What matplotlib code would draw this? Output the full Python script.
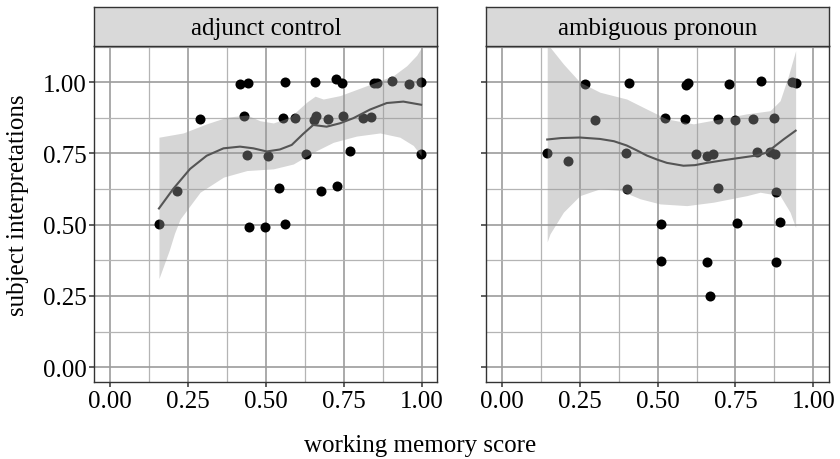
import matplotlib
matplotlib.use("Agg")
import matplotlib.pyplot as plt
from matplotlib.ticker import MultipleLocator
import numpy as np

plt.rcParams['font.family'] = ['Liberation Serif', 'DejaVu Serif']

panels = ["adjunct control", "ambiguous pronoun"]
tick_values = [0.0, 0.25, 0.5, 0.75, 1.0]
tick_labels = ["0.00", "0.25", "0.50", "0.75", "1.00"]

# adjunct control: jittered points
adj_x = [0.157, 0.214, 0.289, 0.417, 0.443, 0.431, 0.438, 0.445, 0.497, 0.506,
         0.542, 0.560, 0.562, 0.556, 0.594, 0.629, 0.658, 0.653, 0.661, 0.678,
         0.698, 0.725, 0.743, 0.729, 0.748, 0.770, 0.812, 0.838, 0.847, 0.857,
         0.904, 0.958, 0.998, 0.998]
adj_y = [0.503, 0.618, 0.871, 0.994, 0.998, 0.882, 0.743, 0.492, 0.492, 0.741,
         0.630, 0.501, 1.000, 0.875, 0.875, 0.747, 1.000, 0.868, 0.880, 0.617,
         0.870, 1.010, 0.996, 0.636, 0.882, 0.757, 0.874, 0.878, 0.996, 0.996,
         1.005, 0.994, 1.000, 0.749]

# adjunct control: smoother and confidence band
adj_fit_x = [0.157, 0.203, 0.257, 0.310, 0.364, 0.417, 0.460, 0.503, 0.545,
             0.583, 0.620, 0.652, 0.695, 0.738, 0.781, 0.834, 0.888, 0.941, 0.998]
adj_fit_y = [0.557, 0.626, 0.696, 0.742, 0.768, 0.774, 0.768, 0.757, 0.764,
             0.780, 0.819, 0.850, 0.844, 0.856, 0.874, 0.904, 0.927, 0.932, 0.921]
adj_hi_x = [0.157, 0.235, 0.310, 0.374, 0.439, 0.481, 0.524, 0.577, 0.631,
            0.658, 0.684, 0.738, 0.824, 0.909, 0.952, 0.984, 0.998]
adj_hi_y = [0.807, 0.822, 0.854, 0.877, 0.885, 0.865, 0.857, 0.877, 0.930,
            0.951, 0.941, 0.953, 0.988, 1.023, 1.058, 1.095, 1.120]
adj_lo_x = [0.157, 0.190, 0.207, 0.225, 0.289, 0.364, 0.439, 0.524, 0.588,
            0.652, 0.716, 0.791, 0.866, 0.930, 0.973, 0.998]
adj_lo_y = [0.311, 0.410, 0.470, 0.520, 0.614, 0.667, 0.690, 0.696, 0.713,
            0.754, 0.789, 0.811, 0.822, 0.807, 0.778, 0.742]

# ambiguous pronoun: jittered points
amb_x = [0.146, 0.214, 0.267, 0.298, 0.398, 0.401, 0.410, 0.510, 0.511, 0.523,
         0.588, 0.590, 0.598, 0.624, 0.658, 0.679, 0.658, 0.667, 0.693, 0.693,
         0.730, 0.750, 0.755, 0.805, 0.820, 0.832, 0.861, 0.872, 0.877, 0.880,
         0.879, 0.894, 0.931, 0.943]
amb_y = [0.750, 0.723, 0.992, 0.868, 0.751, 0.627, 0.998, 0.503, 0.374, 0.874,
         0.871, 0.991, 0.996, 0.747, 0.740, 0.748, 0.368, 0.251, 0.870, 0.628,
         0.992, 0.869, 0.506, 0.871, 0.754, 1.005, 0.754, 0.876, 0.748, 0.616,
         0.368, 0.509, 1.000, 0.996]

# ambiguous pronoun: smoother and confidence band
amb_fit_x = [0.146, 0.190, 0.250, 0.315, 0.360, 0.401, 0.435, 0.465, 0.500,
             0.530, 0.583, 0.620, 0.658, 0.710, 0.754, 0.818, 0.850, 0.872,
             0.905, 0.943]
amb_fit_y = [0.799, 0.804, 0.806, 0.801, 0.793, 0.778, 0.760, 0.743, 0.728,
             0.717, 0.707, 0.709, 0.717, 0.726, 0.733, 0.743, 0.753, 0.772,
             0.800, 0.830]
amb_hi_x = [0.146, 0.155, 0.198, 0.251, 0.315, 0.401, 0.465, 0.530, 0.615,
            0.700, 0.786, 0.861, 0.893, 0.920, 0.943]
amb_hi_y = [1.128, 1.123, 1.064, 1.000, 0.965, 0.941, 0.906, 0.871, 0.854,
            0.871, 0.889, 0.900, 0.935, 1.023, 1.111]
amb_lo_x = [0.146, 0.155, 0.198, 0.251, 0.315, 0.380, 0.444, 0.508, 0.594,
            0.679, 0.786, 0.829, 0.893, 0.925, 0.943]
amb_lo_y = [0.440, 0.468, 0.544, 0.602, 0.626, 0.620, 0.591, 0.573, 0.567,
            0.579, 0.602, 0.614, 0.602, 0.544, 0.490]

data = [
    (adj_x, adj_y, adj_fit_x, adj_fit_y, adj_hi_x, adj_hi_y, adj_lo_x, adj_lo_y),
    (amb_x, amb_y, amb_fit_x, amb_fit_y, amb_hi_x, amb_hi_y, amb_lo_x, amb_lo_y),
]

fig = plt.figure(figsize=(8.4, 4.6), dpi=100)
ax_w = 0.4082
ax_h = 0.7317
ax_b = 0.1667
lefts = [0.1124, 0.5787]
fs = 18

for i, (name, d) in enumerate(zip(panels, data)):
    px, py, fx, fy, hx, hy, lx, ly = d
    ax = fig.add_axes([lefts[i], ax_b, ax_w, ax_h])
    ax.set_xlim(-0.05, 1.05)
    ax.set_ylim(-0.053, 1.128)
    ax.xaxis.set_minor_locator(MultipleLocator(0.125))
    ax.yaxis.set_minor_locator(MultipleLocator(0.125))
    ax.set_xticks(tick_values)
    ax.set_xticklabels(tick_labels)
    ax.set_yticks(tick_values)
    if i == 0:
        ax.set_yticklabels(tick_labels)
    else:
        ax.set_yticklabels([])
        ax.tick_params(axis='y', length=0)
    ax.grid(which='major', color='#9c9c9c', lw=1.2, zorder=0)
    ax.grid(which='minor', color='#b4b4b4', lw=0.9, zorder=0)
    ax.set_axisbelow(True)
    ax.tick_params(which='minor', length=0)
    ax.tick_params(which='major', length=3.8, width=1.1, color='#333333',
                   labelsize=fs, labelcolor='black', pad=2)
    for s in ax.spines.values():
        s.set_color('#333333')
        s.set_linewidth(1.0)

    ax.scatter(px, py, s=52, color='black', zorder=2, linewidths=0)

    # confidence band: upper and lower edges on a shared x grid
    gx = np.union1d(hx, lx)
    band_hi = np.interp(gx, hx, hy)
    band_lo = np.interp(gx, lx, ly)
    ax.fill_between(gx, band_lo, band_hi, color='#999999', alpha=0.4,
                    linewidth=0, zorder=3)
    ax.plot(fx, fy, color='#555555', lw=1.5, zorder=4)

    # facet strip
    strip = fig.add_axes([lefts[i], 0.8985, ax_w, 0.0835])
    strip.set_xticks([])
    strip.set_yticks([])
    strip.set_facecolor('#d9d9d9')
    for s in strip.spines.values():
        s.set_color('#333333')
        s.set_linewidth(1.0)
    strip.text(0.5, 0.47, name, ha='center', va='center', fontsize=fs,
               transform=strip.transAxes)

fig.text(0.5, 0.03, "working memory score", ha='center', va='center', fontsize=fs)
fig.text(0.021, 0.554, "subject interpretations", ha='center', va='center',
         rotation=90, fontsize=fs)

fig.savefig("out.png", dpi=100)
